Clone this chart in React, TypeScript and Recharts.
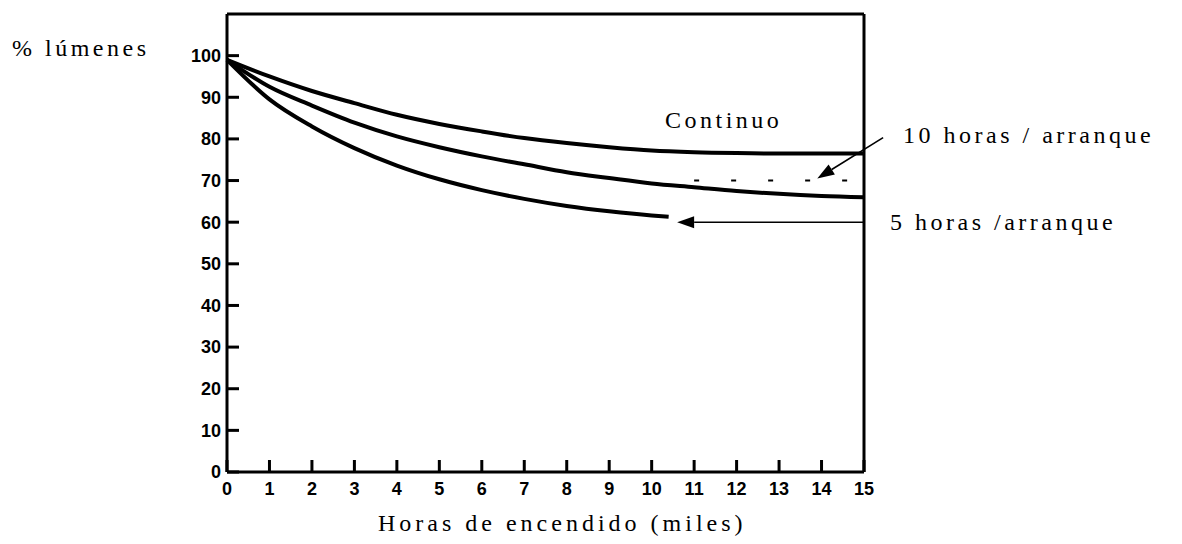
import { LineChart, Line, XAxis, YAxis, ReferenceLine } from "recharts";

// horas de encendido (miles)
const horas = [0, 1, 2, 3, 4, 5, 6, 7, 8, 9, 10, 11, 12, 13, 14, 15];
const continuo = [99, 95, 91.5, 88.6, 85.8, 83.6, 81.8, 80.2, 79, 78, 77.2, 76.8, 76.6, 76.5, 76.5, 76.5];
const diezHoras = [99, 92.5, 88, 83.9, 80.6, 78, 75.8, 73.9, 72, 70.6, 69.3, 68.4, 67.5, 66.8, 66.3, 66];
const cincoHorasX = [0, 1, 2, 3, 4, 5, 6, 7, 8, 9, 10, 10.4];
const cincoHoras = [99, 89.5, 83, 77.8, 73.6, 70.3, 67.7, 65.6, 63.9, 62.6, 61.6, 61.3];

const yTicks = [0, 10, 20, 30, 40, 50, 60, 70, 80, 90, 100];
const topTicks = [1, 2, 3, 4, 5, 6, 7, 8, 9, 10, 11, 12, 13, 14];

// anotaciones (coordenadas de datos)
const flechaDiez = [{ x: 15.45, y: 80.3 }, { x: 13.9, y: 70.5 }];
const flechaCinco = [{ x: 15, y: 60 }, { x: 10.6, y: 60 }];
const punteada = [{ x: 11, y: 70 }, { x: 15, y: 70 }];

const serie = (xs: number[], ys: number[]) => xs.map((x, i) => ({ x, v: ys[i] }));

const arrow = (p: any) => {
  const { x1, y1, x2, y2 } = p;
  const a = Math.atan2(y2 - y1, x2 - x1);
  const len = 17;
  const w = 6;
  const bx = x2 - len * Math.cos(a);
  const by = y2 - len * Math.sin(a);
  const nx = -Math.sin(a) * w;
  const ny = Math.cos(a) * w;
  return (
    <g>
      <line x1={x1} y1={y1} x2={bx} y2={by} stroke="#000" strokeWidth={1.6} />
      <polygon points={`${x2},${y2} ${bx + nx},${by + ny} ${bx - nx},${by - ny}`} fill="#000" />
    </g>
  );
};

const txt = {
  position: "absolute" as const,
  fontFamily: "'Liberation Serif', 'Times New Roman', 'DejaVu Serif', serif",
  fontSize: 24,
  lineHeight: "24px",
  letterSpacing: 3.5,
  color: "#000",
  whiteSpace: "nowrap" as const,
};
const tickStyle = { fill: "#000", fontSize: 18, fontWeight: 700, fontFamily: "'Liberation Sans', Arial, sans-serif" };
const ax = { stroke: "#000", strokeWidth: 3 };

export default function App() {
  return (
    <div style={{ position: "absolute", left: 0, top: 0, width: 1182, height: 544, background: "#fff" }}>
      <LineChart width={1182} height={544} margin={{ top: 10, right: 308, left: 147, bottom: 32 }}>
        <XAxis dataKey="x" type="number" domain={[0, 15]} ticks={horas} interval={0}
          tick={tickStyle} axisLine={ax} tickLine={ax} tickSize={-12} tickMargin={22} height={40} />
        <XAxis xAxisId="top" orientation="top" dataKey="x" type="number" domain={[0, 15]} ticks={topTicks}
          tick={() => <g />} axisLine={ax} tickLine={{ stroke: "#000", strokeWidth: 2.5 }} tickSize={-12} height={4} />
        <YAxis type="number" domain={[0, 110]} ticks={yTicks} interval={0} width={80}
          tick={tickStyle} axisLine={ax} tickLine={ax} tickSize={-12} tickMargin={18} />
        <YAxis yAxisId="right" orientation="right" type="number" domain={[0, 110]} ticks={yTicks.slice(1)}
          tick={() => <g />} axisLine={ax} tickLine={{ stroke: "#000", strokeWidth: 2.5 }} tickSize={-10} width={10} />
        <Line data={serie(horas, continuo)} dataKey="v" type="monotone" stroke="#000" strokeWidth={4} dot={false} isAnimationActive={false} />
        <Line data={serie(horas, diezHoras)} dataKey="v" type="monotone" stroke="#000" strokeWidth={4} dot={false} isAnimationActive={false} />
        <Line data={serie(cincoHorasX, cincoHoras)} dataKey="v" type="monotone" stroke="#000" strokeWidth={4} dot={false} isAnimationActive={false} />
        <ReferenceLine segment={punteada} ifOverflow="visible" stroke="#000" strokeWidth={2} strokeDasharray="5 32" />
        <ReferenceLine segment={flechaDiez} ifOverflow="visible" shape={arrow} />
        <ReferenceLine segment={flechaCinco} ifOverflow="visible" shape={arrow} />
      </LineChart>
      <div style={{ ...txt, left: 12, top: 36 }}>% lúmenes</div>
      <div style={{ ...txt, left: 665, top: 108 }}>Continuo</div>
      <div style={{ ...txt, left: 903, top: 123 }}>10 horas / arranque</div>
      <div style={{ ...txt, left: 890, top: 210 }}>5 horas /arranque</div>
      <div style={{ ...txt, left: 378, top: 511, letterSpacing: 4 }}>Horas de encendido (miles)</div>
    </div>
  );
}
